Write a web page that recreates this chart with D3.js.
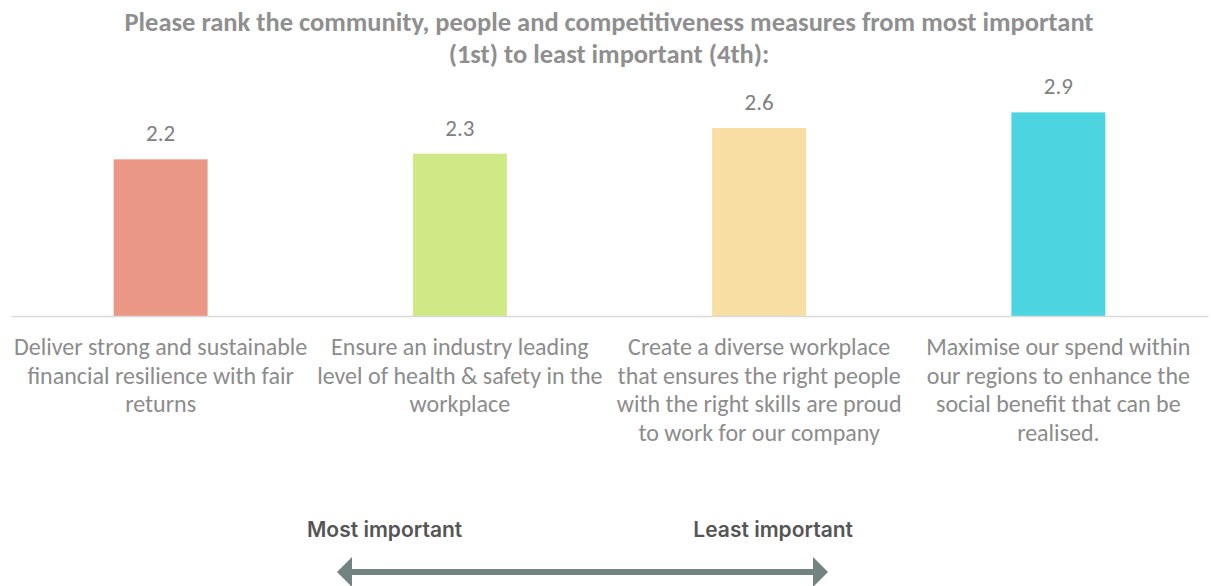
<!DOCTYPE html>
<html>
<head>
<meta charset="utf-8">
<script src="https://cdn.jsdelivr.net/npm/d3@7"></script>
<style>
  html, body { margin: 0; padding: 0; background: #ffffff; }
  svg { display: block; }
</style>
</head>
<body>
<div id="chart"></div>
<script>
// ---- data ----
const titleLines = [
  "Please rank the community, people and competitiveness measures from most important",
  "(1st) to least important (4th):"
];
const categories = [
  ["Deliver strong and sustainable", "financial resilience with fair", "returns"],
  ["Ensure an industry leading", "level of health & safety in the", "workplace"],
  ["Create a diverse workplace", "that ensures the right people", "with the right skills are proud", "to work for our company"],
  ["Maximise our spend within", "our regions to enhance the", "social benefit that can be", "realised."]
];
const values = [2.2, 2.28, 2.64, 2.86];
const colors = ["#EA9785", "#CFE986", "#F8DEA2", "#4DD4E1"];
const legendLabels = ["Most important", "Least important"];

// ---- layout ----
const W = 1211, H = 586;
const baseY = 316;
const svg = d3.select("#chart").append("svg").attr("width", W).attr("height", H);

const labelFont = "Carlito, Calibri, Lato, 'Open Sans', sans-serif";

// title
svg.append("g").selectAll("text").data(titleLines).join("text")
  .attr("x", 609)
  .attr("y", (d, i) => 31 + i * 32)
  .attr("text-anchor", "middle")
  .style("font-family", labelFont)
  .style("font-weight", "bold")
  .style("font-size", "26.5px")
  .style("fill", "#8f8f8f")
  .text(d => d);

const x = d3.scaleBand()
  .domain(d3.range(categories.length))
  .range([11, 1208])
  .paddingInner(0.686)
  .paddingOuter(0.343);

const y = d3.scaleLinear().domain([0, 3.5]).range([baseY, baseY - 3.5 * 71.2]);

// bars
svg.append("g").selectAll("rect").data(values).join("rect")
  .attr("x", (d, i) => x(i))
  .attr("width", x.bandwidth())
  .attr("y", d => y(d))
  .attr("height", d => y(0) - y(d))
  .attr("fill", (d, i) => colors[i]);

// axis baseline
const axis = d3.axisBottom(x).tickSize(0).tickFormat("");
const axisG = svg.append("g").attr("transform", `translate(0,${baseY})`).call(axis);
axisG.select(".domain").attr("stroke", "#d9d9d9").attr("stroke-width", 1.5);

// value labels
svg.append("g").selectAll("text").data(values).join("text")
  .attr("x", (d, i) => x(i) + x.bandwidth() / 2)
  .attr("y", d => y(d) - 18)
  .attr("text-anchor", "middle")
  .style("font-family", labelFont)
  .style("font-size", "23px")
  .style("fill", "#808080")
  .text(d => d.toFixed(1));

// category labels
const catG = svg.append("g").selectAll("text").data(categories).join("text")
  .attr("text-anchor", "middle")
  .style("font-family", labelFont)
  .style("font-size", "24px")
  .style("fill", "#8c8c8c");
catG.each(function(lines, i) {
  const cx = x(i) + x.bandwidth() / 2;
  d3.select(this).selectAll("tspan").data(lines).join("tspan")
    .attr("x", cx)
    .attr("y", (d, j) => 355 + j * 28.7)
    .text(d => d);
});

// legend arrow
const lg = svg.append("g");
const arrowColor = "#73837f";
const ax = d3.scaleLinear().domain([0, 1]).range([337, 828]);
const ay = 572;
lg.append("line")
  .attr("x1", ax(0) + 14).attr("x2", ax(1) - 14)
  .attr("y1", ay).attr("y2", ay)
  .attr("stroke", arrowColor).attr("stroke-width", 6);
lg.append("path")
  .attr("d", `M${ax(0)},${ay} L${ax(0) + 15},${ay - 15} L${ax(0) + 15},${ay + 15} Z`)
  .attr("fill", arrowColor);
lg.append("path")
  .attr("d", `M${ax(1)},${ay} L${ax(1) - 15},${ay - 15} L${ax(1) - 15},${ay + 15} Z`)
  .attr("fill", arrowColor);

lg.append("text")
  .attr("x", 307).attr("y", 537)
  .attr("text-anchor", "start")
  .style("font-family", "Inter, 'Open Sans', sans-serif")
  .style("font-weight", 600)
  .style("font-size", "21px")
  .style("fill", "#555555")
  .text(legendLabels[0]);
lg.append("text")
  .attr("x", 853).attr("y", 537)
  .attr("text-anchor", "end")
  .style("font-family", "Inter, 'Open Sans', sans-serif")
  .style("font-weight", 600)
  .style("font-size", "21px")
  .style("fill", "#555555")
  .text(legendLabels[1]);
</script>
</body>
</html>
